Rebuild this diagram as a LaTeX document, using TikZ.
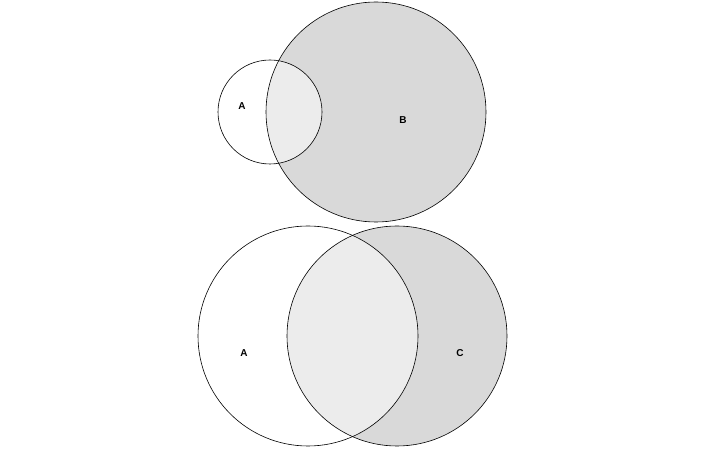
\documentclass[tikz,border=0pt]{standalone}
\usepackage{fontspec}
\setmainfont{Liberation Sans}
\begin{document}
\begin{tikzpicture}[x=1pt,y=-1pt,
  lbl/.style={font=\bfseries\fontsize{10}{12}\selectfont},
  ring/.style={draw=black,line width=0.6pt}]
\useasboundingbox (0,0) rectangle (705,449);
% top
\fill[gray!30] (376,112) circle (110);
\begin{scope}\clip (376,112) circle (110);
\fill[gray!15] (270,112) circle (52);\end{scope}
\draw[ring] (270,112) circle (52);
\draw[ring] (376,112) circle (110);
\node[lbl] (a1) at (242,106) {A};
\node[lbl] (b) at (403,120) {B};
% bottom
\fill[gray!30] (397,336) circle (110);
\begin{scope}\clip (397,336) circle (110);
\fill[gray!15] (308,336) circle (110);\end{scope}
\draw[ring] (308,336) circle (110);
\draw[ring] (397,336) circle (110);
\node[lbl] (a2) at (244,353) {A};
\node[lbl] (c) at (460,353) {C};
\end{tikzpicture}
\end{document}
